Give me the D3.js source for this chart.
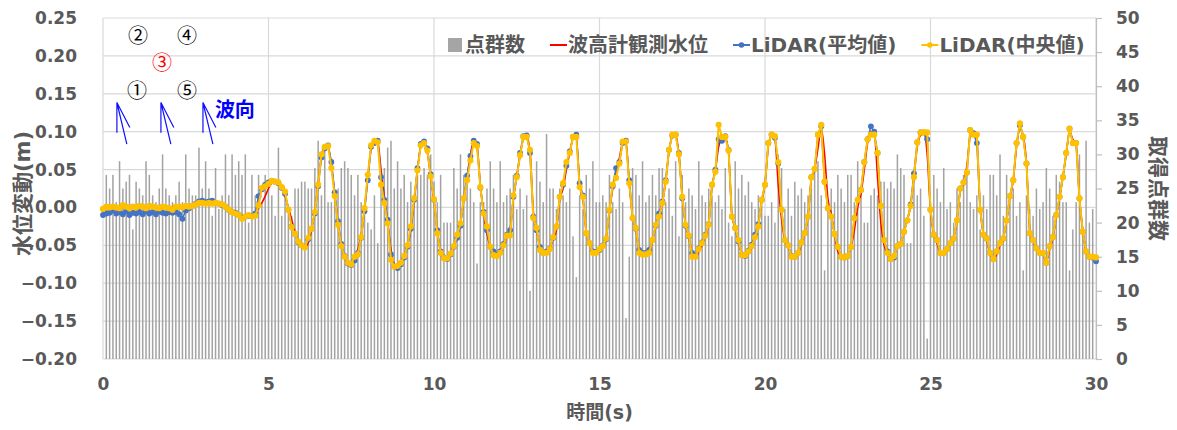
<!DOCTYPE html>
<html><head><meta charset="utf-8">
<script src="https://cdn.jsdelivr.net/npm/d3@7"></script>
<style>body{margin:0;background:#fff}</style>
</head><body><svg id="c" width="1177" height="430"></svg>
<script>
// ---------- data ----------
const timeStep = 0.1; // s
const xTicks = [0, 5, 10, 15, 20, 25, 30];
const yLeftTicks = [-0.20, -0.15, -0.10, -0.05, 0.00, 0.05, 0.10, 0.15, 0.20, 0.25];
const yRightTicks = [0, 5, 10, 15, 20, 25, 30, 35, 40, 45, 50];
const legendLabels = ["点群数", "波高計観測水位", "LiDAR(平均値)", "LiDAR(中央値)"];

// 取得点群数 (t = 0.1 ... 29.9 s)
const pointCounts = [
27,25,27,23,29,25,26,27,19,26,25,24,29,27,24,23,25,30,25,24,23,24,26,23,30,25,24,24,31,25,29,25,21,28,22,24,30,24,30,27,29,27,30,20,27,24,27,23,27,25,24,21,31,21,24,22,21,25,25,
26,26,25,25,28,32,24,31,23,23,24,25,28,29,28,27,24,27,23,22,20,19,24,17,27,28,31,32,25,29,25,27,23,26,23,27,27,28,27,30,26,23,27,20,20,20,28,25,30,27,27,25,23,14,23,23,25,29,25,23,
29,23,24,25,27,22,25,22,24,10,22,29,26,23,33,25,25,22,25,24,23,25,18,12,24,22,27,25,29,23,23,24,23,27,23,22,25,23,6,15,28,27,24,29,23,24,27,24,28,28,23,25,21,29,18,27,23,25,24,22,
29,24,23,25,24,23,24,22,28,20,18,29,25,27,24,26,23,22,24,23,21,21,23,20,30,28,22,25,21,26,24,25,23,24,25,28,29,24,13,22,25,23,27,25,23,27,27,23,29,25,20,20,24,25,24,26,26,25,26,25,
30,28,27,17,17,27,24,25,21,3,23,27,25,23,28,22,23,20,25,23,27,27,23,22,24,19,24,22,27,27,24,30,21,27,23,25,21,23,13,24,22,21,25,22,23,28,25,21,27,26,23,23,13,19,23,30,19,32,20,22
];

// 波高計観測水位 (m), t = 0.0 ... 30.0 s
const gaugeLevel = [
0.000,0.001,0.001,0.000,0.000,-0.001,0.000,0.001,0.000,-0.001,
0.000,0.001,0.000,0.000,0.001,0.001,0.000,-0.001,0.000,0.001,
0.001,0.000,0.000,0.001,0.002,0.002,0.003,0.004,0.005,0.006,
0.007,0.007,0.007,0.007,0.006,0.006,0.004,0.002,-0.001,-0.004,
-0.006,-0.009,-0.011,-0.012,-0.012,-0.010,-0.006,-0.001,0.006,0.015,
0.025,0.032,0.034,0.031,0.025,0.015,0.000,-0.016,-0.032,-0.045,
-0.051,-0.053,-0.047,-0.030,-0.005,0.032,0.068,0.081,0.080,0.055,
0.018,-0.022,-0.050,-0.065,-0.074,-0.074,-0.066,-0.055,-0.036,-0.002,
0.040,0.078,0.089,0.086,0.050,0.015,-0.020,-0.055,-0.075,-0.078,
-0.073,-0.062,-0.050,-0.030,0.008,0.048,0.080,0.086,0.072,0.040,
0.008,-0.033,-0.058,-0.066,-0.066,-0.060,-0.050,-0.038,-0.020,0.010,
0.040,0.070,0.087,0.080,0.030,-0.008,-0.035,-0.052,-0.060,-0.062,
-0.058,-0.050,-0.040,-0.030,0.012,0.040,0.068,0.090,0.093,0.075,
-0.005,-0.030,-0.052,-0.060,-0.060,-0.055,-0.042,-0.030,0.010,0.025,
0.050,0.072,0.090,0.092,0.030,0.010,-0.032,-0.048,-0.058,-0.060,
-0.058,-0.052,-0.040,-0.005,0.025,0.048,0.065,0.085,0.086,0.030,
-0.012,-0.030,-0.058,-0.062,-0.062,-0.058,-0.045,-0.025,-0.010,0.006,
0.034,0.074,0.094,0.096,0.070,0.015,-0.022,-0.040,-0.062,-0.066,
-0.058,-0.050,-0.037,-0.022,0.028,0.048,0.080,0.090,0.092,0.072,
-0.010,-0.028,-0.045,-0.062,-0.064,-0.060,-0.050,-0.038,-0.022,0.008,
0.030,0.080,0.094,0.090,0.030,-0.015,-0.043,-0.052,-0.063,-0.066,
-0.062,-0.048,-0.034,-0.012,0.036,0.050,0.078,0.104,0.070,0.012,
-0.008,-0.035,-0.058,-0.064,-0.065,-0.064,-0.052,-0.030,0.000,0.018,
0.050,0.085,0.100,0.098,0.040,-0.020,-0.050,-0.060,-0.068,-0.064,
-0.052,-0.048,-0.032,-0.017,0.002,0.040,0.080,0.095,0.097,0.070,
-0.005,-0.035,-0.048,-0.060,-0.062,-0.055,-0.048,-0.040,-0.018,0.022,
0.032,0.055,0.095,0.100,0.090,0.000,-0.035,-0.045,-0.060,-0.068,
-0.062,-0.050,-0.040,-0.018,0.012,0.036,0.080,0.104,0.095,0.058,
-0.030,-0.045,-0.054,-0.058,-0.062,-0.072,-0.055,-0.040,-0.012,0.012,
0.040,0.070,0.100,0.090,0.082,0.012,-0.030,-0.057,-0.064,-0.066,
-0.070
];

// LiDAR(平均値) (m)
const lidarMean = [
-0.010,-0.008,-0.007,-0.004,-0.008,-0.006,-0.009,-0.005,-0.010,-0.007,
-0.008,-0.006,-0.009,-0.005,-0.008,-0.006,-0.009,-0.005,-0.007,-0.008,
-0.006,-0.007,-0.006,-0.009,-0.015,-0.004,-0.001,0.002,0.005,0.008,
0.009,0.007,0.008,0.009,0.006,0.005,0.003,0.001,-0.003,-0.006,
-0.007,-0.010,-0.013,-0.012,-0.011,-0.011,-0.008,0.015,0.024,0.030,
0.033,0.035,0.034,0.032,0.026,0.018,-0.003,-0.025,-0.035,-0.046,
-0.050,-0.052,-0.042,-0.028,-0.008,0.028,0.066,0.078,0.082,0.060,
0.020,-0.018,-0.048,-0.064,-0.074,-0.076,-0.070,-0.060,-0.040,-0.005,
0.036,0.080,0.085,0.088,0.040,0.010,-0.016,-0.062,-0.078,-0.080,
-0.075,-0.066,-0.052,-0.028,0.010,0.052,0.084,0.087,0.078,0.044,
0.010,-0.030,-0.058,-0.066,-0.068,-0.062,-0.052,-0.040,-0.024,0.012,
0.042,0.068,0.088,0.084,0.026,-0.006,-0.030,-0.052,-0.058,-0.062,
-0.058,-0.048,-0.036,-0.030,0.014,0.042,0.072,0.094,0.095,0.072,
-0.012,-0.030,-0.052,-0.060,-0.058,-0.054,-0.040,-0.025,0.014,0.030,
0.055,0.074,0.093,0.096,0.032,0.016,-0.034,-0.047,-0.058,-0.059,
-0.056,-0.050,-0.042,-0.004,0.028,0.052,0.060,0.085,0.088,0.036,
-0.014,-0.028,-0.056,-0.060,-0.060,-0.056,-0.043,-0.024,-0.008,0.008,
0.036,0.076,0.095,0.096,0.072,0.012,-0.024,-0.038,-0.060,-0.064,
-0.054,-0.046,-0.036,-0.022,0.030,0.050,0.090,0.088,0.094,0.076,
-0.012,-0.027,-0.045,-0.062,-0.064,-0.057,-0.049,-0.036,-0.022,0.010,
0.030,0.085,0.096,0.092,0.058,-0.003,-0.043,-0.050,-0.064,-0.065,
-0.060,-0.046,-0.034,-0.012,0.040,0.051,0.096,0.107,0.034,-0.001,
-0.012,-0.035,-0.052,-0.065,-0.066,-0.064,-0.052,-0.014,0.010,0.023,
0.060,0.090,0.107,0.100,0.072,0.002,-0.043,-0.058,-0.068,-0.066,
-0.051,-0.048,-0.032,-0.017,0.004,0.045,0.086,0.099,0.099,0.090,
-0.003,-0.036,-0.043,-0.060,-0.060,-0.055,-0.047,-0.041,-0.017,0.025,
0.033,0.046,0.102,0.098,0.085,-0.003,-0.036,-0.041,-0.060,-0.068,
-0.058,-0.047,-0.041,-0.017,0.015,0.036,0.085,0.108,0.093,0.058,
-0.034,-0.043,-0.054,-0.060,-0.060,-0.073,-0.051,-0.039,-0.010,0.014,
0.040,0.072,0.104,0.085,0.085,0.012,-0.032,-0.058,-0.065,-0.066,
-0.071
];

// LiDAR(中央値) (m)
const lidarMedian = [
-0.002,0.001,0.000,0.001,0.000,-0.001,0.003,0.001,-0.001,0.001,
0.000,0.002,0.001,-0.001,0.002,0.001,0.000,-0.001,0.001,0.000,
-0.001,-0.003,0.001,0.001,0.000,0.002,0.001,0.002,0.004,0.006,
0.006,0.005,0.006,0.005,0.006,0.005,0.004,0.001,-0.003,-0.006,
-0.008,-0.010,-0.015,-0.012,-0.010,-0.012,-0.011,0.003,0.026,0.028,
0.031,0.035,0.034,0.033,0.027,0.021,-0.003,-0.026,-0.035,-0.045,
-0.050,-0.053,-0.040,-0.028,-0.006,0.030,0.070,0.080,0.081,0.052,
0.015,-0.023,-0.051,-0.065,-0.073,-0.075,-0.065,-0.062,-0.039,-0.001,
0.043,0.082,0.088,0.086,0.030,0.006,-0.021,-0.069,-0.078,-0.077,
-0.073,-0.064,-0.050,-0.025,0.012,0.049,0.082,0.085,0.075,0.041,
0.011,-0.034,-0.060,-0.067,-0.067,-0.061,-0.051,-0.036,-0.021,0.012,
0.036,0.062,0.085,0.081,0.027,-0.008,-0.025,-0.052,-0.063,-0.064,
-0.060,-0.050,-0.037,-0.037,0.016,0.040,0.069,0.093,0.093,0.076,
-0.014,-0.027,-0.056,-0.060,-0.060,-0.055,-0.039,-0.025,0.014,0.032,
0.060,0.072,0.093,0.093,0.027,0.014,-0.034,-0.047,-0.060,-0.060,
-0.055,-0.051,-0.041,-0.003,0.030,0.039,0.058,0.087,0.087,0.032,
-0.014,-0.027,-0.060,-0.062,-0.062,-0.060,-0.043,-0.023,-0.012,0.006,
0.034,0.076,0.096,0.096,0.070,0.014,-0.023,-0.037,-0.065,-0.065,
-0.055,-0.047,-0.037,-0.023,0.030,0.047,0.109,0.093,0.093,0.075,
-0.012,-0.027,-0.043,-0.063,-0.063,-0.058,-0.051,-0.039,-0.025,0.010,
0.030,0.085,0.096,0.094,0.060,-0.003,-0.043,-0.050,-0.065,-0.065,
-0.060,-0.046,-0.034,-0.012,0.040,0.051,0.096,0.109,0.034,-0.001,
-0.012,-0.035,-0.052,-0.065,-0.066,-0.064,-0.052,-0.014,0.010,0.023,
0.060,0.090,0.096,0.096,0.072,0.002,-0.043,-0.060,-0.068,-0.064,
-0.051,-0.048,-0.032,-0.017,0.002,0.040,0.086,0.099,0.099,0.099,
-0.003,-0.036,-0.043,-0.060,-0.060,-0.055,-0.047,-0.041,-0.017,0.025,
0.033,0.046,0.102,0.096,0.096,-0.003,-0.036,-0.041,-0.060,-0.068,
-0.058,-0.047,-0.041,-0.017,0.015,0.036,0.085,0.111,0.093,0.058,
-0.034,-0.043,-0.054,-0.060,-0.060,-0.073,-0.051,-0.039,-0.010,0.014,
0.040,0.072,0.104,0.085,0.085,0.012,-0.032,-0.058,-0.065,-0.065,
-0.066
];

// annotation (position in data units: t [s], v [m])
const pointLabels = [
  {text:"②", t:1.06, v:0.226, color:"#000"},
  {text:"④", t:2.54, v:0.226, color:"#000"},
  {text:"③", t:1.78, v:0.190, color:"#ff0000"},
  {text:"①", t:1.03, v:0.154, color:"#000"},
  {text:"⑤", t:2.54, v:0.154, color:"#000"}
];
const waveDirLabel = {text:"波向", t:3.38, v:0.128};
const arrowApexT = [0.42, 1.75, 3.02];
const arrowApexV = 0.1385;

// ---------- layout ----------
const W = 1177, H = 430;
const m = {left:103, right:81, top:18, bottom:71};
const svg = d3.select("#c");
const x = d3.scaleLinear().domain([0, 30]).range([m.left, W - m.right]);
const y = d3.scaleLinear().domain([-0.20, 0.25]).range([H - m.bottom, m.top]);
const yR = d3.scaleLinear().domain([0, 50]).range([H - m.bottom, m.top]);

const FONT = "'DejaVu Sans','Noto Sans CJK JP',sans-serif";
const CJK = "'Noto Sans CJK JP','DejaVu Sans',sans-serif";
const TXT = "#595959";
const GRID = "#d9d9d9";

// gridlines
svg.append("g").selectAll("line").data(yLeftTicks).join("line")
  .attr("x1", x(0)).attr("x2", x(30))
  .attr("y1", d => y(d)).attr("y2", d => y(d))
  .attr("stroke", GRID).attr("stroke-width", 1.2);
svg.append("g").selectAll("line").data(xTicks).join("line")
  .attr("x1", d => x(d)).attr("x2", d => x(d))
  .attr("y1", y(0.25)).attr("y2", y(-0.20))
  .attr("stroke", GRID).attr("stroke-width", 1.2);

// bars
const barData = pointCounts.map((c, i) => ({t: (i + 1) * timeStep, c}));
svg.append("g").selectAll("rect").data(barData).join("rect")
  .attr("x", d => x(d.t) - 0.75).attr("width", 1.5)
  .attr("y", d => yR(d.c)).attr("height", d => yR(0) - yR(d.c))
  .attr("fill", "#a3a3a3");

// right axis
const rAxis = d3.axisRight(yR).tickValues(yRightTicks).tickSize(6).tickFormat(d3.format("d"));
const gR = svg.append("g").attr("transform", `translate(${x(30)},0)`).call(rAxis);
gR.select(".domain").attr("stroke", "#bfbfbf").attr("stroke-width", 1.2);
gR.selectAll(".tick line").attr("stroke", "#bfbfbf").attr("stroke-width", 1.2);
gR.selectAll(".tick text").attr("x", 20).attr("fill", TXT)
  .style("font", `bold 17px ${FONT}`);

// left axis
const lAxis = d3.axisLeft(y).tickValues(yLeftTicks).tickSize(0).tickFormat(d3.format(".2f"));
const gL = svg.append("g").attr("transform", `translate(${x(0)},0)`).call(lAxis);
gL.select(".domain").remove();
gL.selectAll(".tick text").attr("x", -26).attr("fill", TXT)
  .style("font", `bold 17px ${FONT}`);

// bottom axis
const bAxis = d3.axisBottom(x).tickValues(xTicks).tickSize(0).tickFormat(d3.format("d"));
const gB = svg.append("g").attr("transform", `translate(0,${y(-0.20)})`).call(bAxis);
gB.select(".domain").remove();
gB.selectAll(".tick text").attr("y", 19).attr("fill", TXT)
  .style("font", `bold 17px ${FONT}`);

// axis titles
svg.append("text").attr("x", (x(0) + x(30)) / 2).attr("y", 419)
  .attr("text-anchor", "middle").attr("fill", TXT)
  .style("font", `bold 19px ${FONT}`).text("時間(s)");
svg.append("text").attr("transform", `translate(30,${(y(0.25) + y(-0.20)) / 2 + 5}) rotate(-90)`)
  .attr("text-anchor", "middle").attr("fill", TXT)
  .style("font", `bold 21px ${FONT}`).text("水位変動(m)");
svg.append("text").attr("transform", `translate(1151,${(y(0.25) + y(-0.20)) / 2}) rotate(90)`)
  .attr("text-anchor", "middle").attr("fill", TXT)
  .style("font", `bold 21px ${CJK}`).text("取得点群数");

// series
const series = (arr) => arr.map((v, i) => ({t: i * timeStep, v}));
const line = d3.line().x(d => x(d.t)).y(d => y(d.v));
const smooth = d3.line().x(d => x(d.t)).y(d => y(d.v)).curve(d3.curveMonotoneX);

svg.append("path").datum(series(gaugeLevel)).attr("d", smooth)
  .attr("fill", "none").attr("stroke", "#ff0000").attr("stroke-width", 1.6);

const mean = series(lidarMean);
svg.append("path").datum(mean).attr("d", line)
  .attr("fill", "none").attr("stroke", "#4472c4").attr("stroke-width", 1.6);
svg.append("g").selectAll("circle").data(mean).join("circle")
  .attr("cx", d => x(d.t)).attr("cy", d => y(d.v)).attr("r", 2.9).attr("fill", "#4472c4");

const median = series(lidarMedian);
svg.append("path").datum(median).attr("d", line)
  .attr("fill", "none").attr("stroke", "#ffc000").attr("stroke-width", 2);
svg.append("g").selectAll("circle").data(median).join("circle")
  .attr("cx", d => x(d.t)).attr("cy", d => y(d.v)).attr("r", 3.1).attr("fill", "#ffc000");

// annotations
svg.append("g").selectAll("text").data(pointLabels).join("text")
  .attr("x", d => x(d.t)).attr("y", d => y(d.v)).attr("dy", "0.35em")
  .attr("text-anchor", "middle").attr("fill", d => d.color)
  .style("font", `20px 'Noto Sans CJK JP',sans-serif`).text(d => d.text);
svg.append("text").attr("x", x(waveDirLabel.t)).attr("y", y(waveDirLabel.v)).attr("dy", "0.35em")
  .attr("fill", "#0000ff").style("font", `bold 20px 'Noto Sans CJK JP',sans-serif`).text(waveDirLabel.text);
const ag = svg.append("g").attr("stroke", "#1010ff").attr("stroke-width", 1.2).attr("fill", "none");
arrowApexT.forEach(t => {
  const ax = x(t), ay = y(arrowApexV);
  ag.append("path").attr("d",
    `M${x(t)},${y(arrowApexV - 0.040)}L${ax},${ay}L${x(t + 0.39)},${y(arrowApexV - 0.033)}` +
    `M${ax},${ay}L${x(t + 0.30)},${y(arrowApexV - 0.055)}`);
});

// legend
const lg = svg.append("g").attr("transform", "translate(447,45)");
const colors = ["#a5a5a5", "#ff0000", "#4472c4", "#ffc000"];
let lx = 0;
legendLabels.forEach((lab, i) => {
  const g = lg.append("g").attr("transform", `translate(${lx},0)`);
  if (i === 0) {
    g.append("rect").attr("x", 1).attr("y", -7).attr("width", 14).attr("height", 14).attr("fill", colors[i]);
  } else {
    g.append("line").attr("x1", 0).attr("x2", 17).attr("y1", 0).attr("y2", 0)
      .attr("stroke", colors[i]).attr("stroke-width", 2);
    if (i > 1) g.append("circle").attr("cx", 8.5).attr("cy", 0).attr("r", 2.8).attr("fill", colors[i]);
  }
  const tx = g.append("text").attr("x", 18).attr("dy", "0.36em").attr("fill", TXT)
    .style("font", `bold 20px ${FONT}`).text(lab);
  lx += 18 + tx.node().getComputedTextLength() + 25;
});
</script></body></html>
